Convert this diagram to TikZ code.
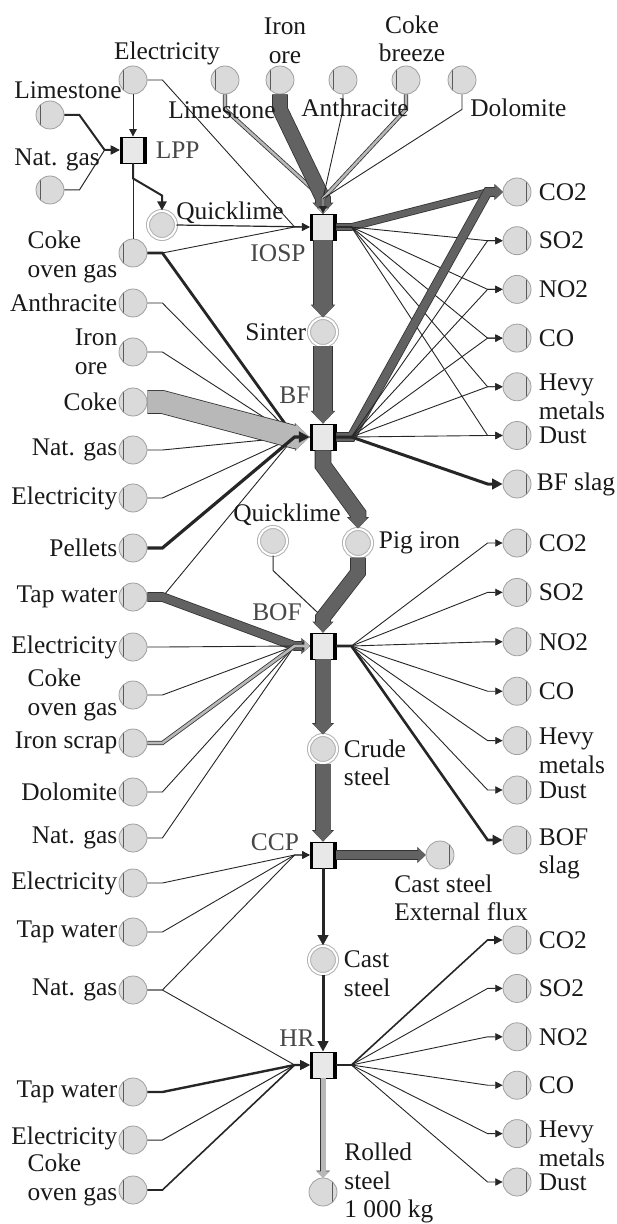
\documentclass[tikz,border=0pt]{standalone}
\usepackage{fontspec}
\setmainfont{Liberation Serif}
\usetikzlibrary{positioning, arrows.meta}

\definecolor{bandgray}{RGB}{98,98,98}
\definecolor{lightband}{RGB}{184,184,184}
\definecolor{placegray}{RGB}{218,218,218}

\begin{document}
\begin{tikzpicture}[x=0.5pt, y=-0.5pt,
    place/.style={circle, draw=gray!75, fill=placegray, minimum size=14pt, inner sep=0pt},
    inp/.style={place, path picture={\draw[black!65] ([xshift=2.3pt]path picture bounding box.north west) -- ([xshift=2.3pt]path picture bounding box.south west);}},
    outp/.style={place, path picture={\draw[black!65] ([xshift=-2.3pt]path picture bounding box.north east) -- ([xshift=-2.3pt]path picture bounding box.south east);}},
    prod/.style={place, draw=gray!60, line width=0.5pt, double=white, double distance=1pt},
    trans/.style={rectangle, draw=black, fill=gray!18, minimum size=13pt, inner sep=0pt,
        path picture={\fill[black] (path picture bounding box.north west) rectangle ([xshift=1.7pt]path picture bounding box.south west);
            \fill[black] (path picture bounding box.north east) rectangle ([xshift=-1.7pt]path picture bounding box.south east);}},
    lbl/.style={font=\fontsize{12.7}{14.3}\selectfont, text=black!90, inner sep=1pt, align=left},
    tlbl/.style={lbl, text=black!72},
    flow/.style={draw=black!85, line width=#1, -{Triangle[length=3pt 1.5, width=3pt 1.5]}},
    flow/.default=0.45pt,
    band/.style={draw=bandgray, line width=#1, -{Triangle[length=2pt 0.45, width=4pt 0.8]},
        preaction={draw=black!80, line width=#1+0.8pt}},
    lband/.style={band=#1, draw=lightband},
    elbow/.style={to path={-- ++(15,0) -- ([xshift=-7.5pt]\tikztotarget) -- (\tikztotarget)}},
    velbow/.style={to path={-- ++(0,15) -- ([yshift=7.5pt]\tikztotarget) -- (\tikztotarget)}},
]
\useasboundingbox (0,0) rectangle (616,1224);

% top row and LPP
\node[inp] (el0) at (133,80) {};
\node[inp] (ls1) at (225,80) {};
\node[inp] (ore1) at (280,80) {};
\node[inp] (an1) at (343,80) {};
\node[inp] (cb1) at (406,80) {};
\node[inp] (do1) at (462,80) {};
\node[inp] (ls0) at (50,115) {};
\node[inp] (ng0) at (50,190) {};
\node[trans] (lpp) at (133,150) {};
\node[prod] (ql0) at (162,225) {};
\node[inp] (cog1) at (133,253) {};

% main chain
\node[trans] (iosp) at (323,227) {};
\node[prod] (sin) at (323,332) {};
\node[trans] (bf) at (323,437) {};
\node[prod] (ql1) at (273,541) {};
\node[prod] (pig) at (358,543) {};
\node[trans] (bof) at (323,646) {};
\node[prod] (crude) at (323,749) {};
\node[trans] (ccp) at (323,855) {};
\node[outp] (cse) at (440,855) {};
\node[prod] (cast) at (323,960) {};
\node[trans] (hr) at (323,1065) {};
\node[outp] (rolled) at (323,1192) {};

% left inputs
\foreach \nm/\yy/\txt/\dy in {an2/303/Anthracite/0pt, ore2/352/{Iron\\ore}/0pt, coke2/402/Coke/0pt,
    ng2/450/Nat. gas/0pt, el2/498/Electricity/0pt, pel2/548/Pellets/0pt, tw3/597/Tap water/0pt,
    el3/647/Electricity/0pt, cog3/695/{Coke\\oven gas}/0pt, scr3/743/Iron scrap/0pt, do3/792/Dolomite/0pt,
    ng3/838/Nat. gas/0pt, el4/883/Electricity/0pt, tw4/932/Tap water/0pt, ng4/990/Nat. gas/0pt,
    tw5/1092/Tap water/0pt, el5/1140/Electricity/1pt, cog5/1190/{Coke\\oven gas}/5pt}
    \node[inp] (\nm) at (133,\yy) {} node[lbl, left=-0.5pt of \nm, yshift=\dy] {\txt};

% emissions
\foreach \g/\gy/\gs in {a/192/48.7, b/543/49.4, c/940/48.4}
    \foreach \nm/\i/\txt/\dy in {co2/0/CO2/0pt, so2/1/SO2/0pt, no2/2/NO2/0pt, co/3/CO/0pt,
        hm/4/{Hevy\\metals}/-5pt, dust/5/Dust/0pt}
        \node[outp] (\g-\nm) at (517,\gy+\i*\gs) {} node[lbl, right=2.5pt of \g-\nm, yshift=\dy] {\txt};
\node[outp] (slaga) at (517,484) {};
\node[outp] (slagb) at (517,840) {};

% LPP flows
\draw[flow] (el0.south) -- (lpp.north);
\draw[flow=1pt] (ls0.east) to[elbow] (lpp.west);
\draw[flow=0.5pt] (ng0.east) to[elbow] (lpp.west);
\draw[flow=1pt] (lpp.south) to[velbow] (ql0.north);
\draw[black!85, line width=0.45pt] (cog1.north) -- (lpp.south);

% IOSP flows
\draw[flow] (el0.east) to[elbow] (iosp.west);
\draw[flow=0.6pt] (ql0.east) -- (iosp.west);
\draw[flow] (cog1.east) to[elbow] (iosp.west);
\draw[lband=1.3pt] (ls1.south) to[velbow] (iosp.north);
\draw[band=7pt] (ore1.south) to[velbow] (iosp.north);
\draw[flow] (an1.south) to[velbow] (iosp.north);
\draw[lband=1.3pt] (cb1.south) to[velbow] (iosp.north);
\draw[flow] (do1.south) to[velbow] (iosp.north);
\draw[band=3pt] (iosp.east) to[elbow] (a-co2.west);
\foreach \nm in {so2,no2,co,hm,dust}
    \draw[flow] (iosp.east) to[elbow] (a-\nm.west);
\draw[band=9pt] (iosp.south) -- (sin.north);
\draw[band=9pt] (sin.south) -- (bf.north);

% BF flows
\draw[flow=1.4pt] (cog1.east) to[elbow] (bf.west);
\foreach \nm in {an2,ore2,ng2,el2,tw3}
    \draw[flow] (\nm.east) to[elbow] (bf.west);
\draw[lband=11pt] (coke2.east) to[elbow] (bf.west);
\draw[flow=1.6pt] (pel2.east) to[elbow] (bf.west);
\draw[band=4pt] (bf.east) to[elbow] (a-co2.west);
\foreach \nm in {so2,no2,co,hm,dust}
    \draw[flow] (bf.east) to[elbow] (a-\nm.west);
\draw[flow=1.5pt] (bf.east) to[elbow] (slaga.west);
\draw[band=7.5pt] (bf.south) to[velbow] (pig.north);

% BOF flows
\draw[flow=0.5pt] (ql1.south) to[velbow] (bof.north);
\draw[band=7pt] (pig.south) to[velbow] (bof.north);
\draw[band=4pt] (tw3.east) to[elbow] (bof.west);
\foreach \nm in {el3,cog3,do3,ng3}
    \draw[flow] (\nm.east) to[elbow] (bof.west);
\draw[lband=1.3pt] (scr3.east) to[elbow] (bof.west);
\foreach \nm in {co2,so2,no2,co,hm,dust}
    \draw[flow] (bof.east) to[elbow] (b-\nm.west);
\draw[flow=1.3pt] (bof.east) to[elbow] (slagb.west);
\draw[band=7.5pt] (bof.south) -- (crude.north);
\draw[band=7.5pt] (crude.south) -- (ccp.north);

% CCP and HR flows
\foreach \nm in {el4,tw4,ng4}
    \draw[flow] (\nm.east) to[elbow] (ccp.west);
\draw[band=4pt] (ccp.east) -- (cse.west);
\draw[flow=1.5pt] (ccp.south) -- (cast.north);
\draw[flow=1.5pt] (cast.south) -- (hr.north);
\draw[flow] (ng4.east) to[elbow] (hr.west);
\draw[flow=1.2pt] (tw5.east) to[elbow] (hr.west);
\draw[flow=0.5pt] (el5.east) to[elbow] (hr.west);
\draw[flow=0.8pt] (cog5.east) to[elbow] (hr.west);
\draw[flow=0.8pt] (hr.east) to[elbow] (c-co2.west);
\foreach \nm in {so2,no2,co,hm,dust}
    \draw[flow] (hr.east) to[elbow] (c-\nm.west);
\draw[lband=2.5pt] (hr.south) -- (rolled.north);

% labels
\node[lbl] at (167,53) {Electricity};
\node[lbl, align=center] at (285,41) {Iron\\ore};
\node[lbl, align=center] at (412,39) {Coke\\breeze};
\node[lbl] at (222,110) {Limestone};
\node[lbl] at (355,108) {Anthracite};
\node[lbl, anchor=west] at (468,108) {Dolomite};
\node[lbl] at (68,90) {Limestone};
\node[lbl] at (57,160) {Nat. gas};
\node[tlbl, right=3.5pt of lpp] {LPP};
\node[lbl] at (230,213) {Quicklime};
\node[lbl, left=-0.5pt of cog1, yshift=-2pt] {Coke\\oven gas};
\node[tlbl] at (278,253) {IOSP};
\node[lbl, left=0pt of sin] {Sinter};
\node[tlbl] at (295,395) {BF};
\node[lbl, right=1.5pt of slaga] {BF slag};
\node[lbl] at (287,515) {Quicklime};
\node[lbl, right=2pt of pig] {Pig iron};
\node[tlbl] at (277,612) {BOF};
\node[lbl, right=2.5pt of slagb, yshift=-7pt] {BOF\\slag};
\node[lbl, right=2pt of crude, yshift=-7pt] {Crude\\steel};
\node[tlbl] at (275,842) {CCP};
\node[lbl, anchor=west] at (392,898) {Cast steel\\External flux};
\node[lbl, right=2pt of cast, yshift=-7pt] {Cast\\steel};
\node[tlbl] at (297,1038) {HR};
\node[lbl, anchor=west] at (342,1183) {Rolled\\steel\\1 000 kg};
\end{tikzpicture}
\end{document}
